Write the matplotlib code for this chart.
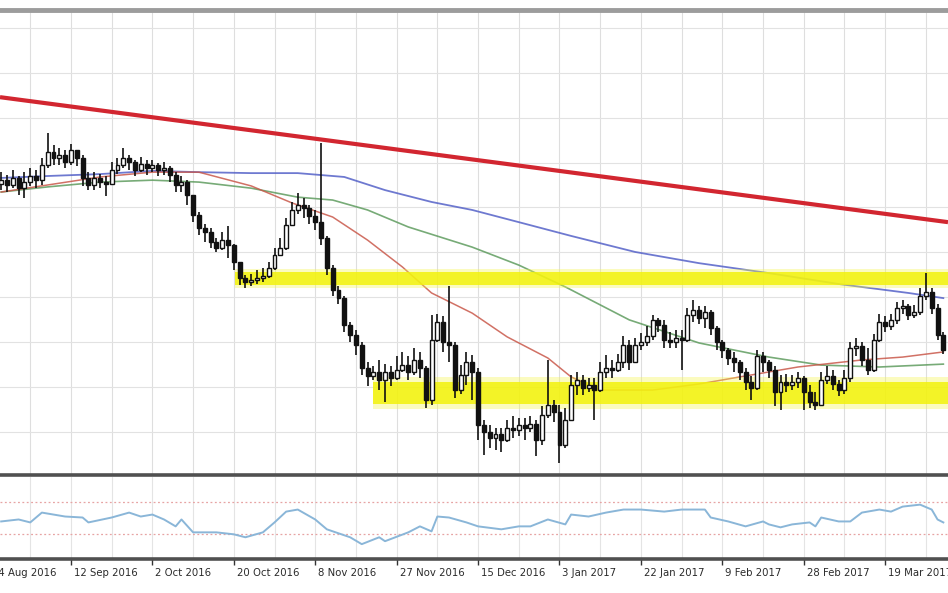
import numpy as np
import matplotlib
matplotlib.use("Agg")
import matplotlib.pyplot as plt

# EURUSD daily candles, late Aug 2016 - Mar 2017
opens = [
    1.1185, 1.1197, 1.1182, 1.1204, 1.1172, 1.1191, 1.1210, 1.1197, 1.1244, 1.1285,
    1.1266, 1.1275, 1.1254, 1.1291, 1.1266, 1.1204, 1.1182, 1.1204, 1.1191, 1.1185,
    1.1229, 1.1244, 1.1266, 1.1254, 1.1229, 1.1247, 1.1235, 1.1244, 1.1229, 1.1235,
    1.1213, 1.1182, 1.1191, 1.1151, 1.1088, 1.1048, 1.1035, 1.1004, 1.0985, 1.1010,
    1.0995, 1.0942, 1.0892, 1.0879, 1.0885, 1.0892, 1.0898, 1.0923, 1.0963, 1.0985,
    1.1057, 1.1104, 1.1119, 1.1110, 1.1085, 1.1066, 1.1016, 1.0923, 1.0854, 1.0829,
    1.0745, 1.0714, 1.0683, 1.0611, 1.0586, 1.0598, 1.0573, 1.0598, 1.0580, 1.0605,
    1.0620, 1.0598, 1.0636, 1.0611, 1.0511, 1.0698, 1.0754, 1.0692, 1.0683, 1.0542,
    1.0589, 1.0630, 1.0598, 1.0433, 1.0411, 1.0392, 1.0405, 1.0386, 1.0424, 1.0418,
    1.0433, 1.0424, 1.0436, 1.0386, 1.0464, 1.0495, 1.0474, 1.0371, 1.0449, 1.0558,
    1.0573, 1.0548, 1.0558, 1.0542, 1.0598, 1.0611, 1.0605, 1.0630, 1.0683, 1.0630,
    1.0683, 1.0692, 1.0711, 1.0761, 1.0745, 1.0698, 1.0692, 1.0704, 1.0698, 1.0776,
    1.0792, 1.0767, 1.0786, 1.0736, 1.0692, 1.0667, 1.0642, 1.0630, 1.0598, 1.0567,
    1.0548, 1.0648, 1.0630, 1.0605, 1.0536, 1.0567, 1.0558, 1.0567, 1.0580, 1.0536,
    1.0505, 1.0495, 1.0573, 1.0586, 1.0561, 1.0542, 1.0580, 1.0673, 1.0680, 1.0636,
    1.0605, 1.0698, 1.0754, 1.0742, 1.0761, 1.0798, 1.0804, 1.0776, 1.0786, 1.0836,
    1.0848, 1.0798, 1.0714,
]
highs = [
    1.1222, 1.1213, 1.1229, 1.1210, 1.1222, 1.1235, 1.1229, 1.1266, 1.1344, 1.1307,
    1.1297, 1.1291, 1.1310, 1.1291, 1.1275, 1.1222, 1.1222, 1.1216, 1.1210, 1.1254,
    1.1266, 1.1297, 1.1275, 1.1260, 1.1269, 1.1260, 1.1260, 1.1250, 1.1254, 1.1241,
    1.1222, 1.1210, 1.1197, 1.1151, 1.1098, 1.1060, 1.1048, 1.1016, 1.1035, 1.1054,
    1.0998, 1.0942, 1.0901, 1.0904, 1.0917, 1.0923, 1.0942, 1.0985, 1.1016, 1.1079,
    1.1129, 1.1157, 1.1141, 1.1119, 1.1104, 1.1313, 1.1023, 1.0932, 1.0867, 1.0836,
    1.0754, 1.0729, 1.0692, 1.0630, 1.0617, 1.0636, 1.0623, 1.0617, 1.0648, 1.0661,
    1.0648, 1.0673, 1.0661, 1.0617, 1.0776, 1.0779, 1.0773, 1.0867, 1.0692, 1.0620,
    1.0661, 1.0651, 1.0611, 1.0449, 1.0433, 1.0424, 1.0424, 1.0449, 1.0461, 1.0455,
    1.0455, 1.0461, 1.0449, 1.0492, 1.0636, 1.0511, 1.0495, 1.0486, 1.0589, 1.0598,
    1.0589, 1.0580, 1.0580, 1.0630, 1.0651, 1.0636, 1.0655, 1.0711, 1.0698, 1.0704,
    1.0720, 1.0742, 1.0776, 1.0767, 1.0761, 1.0723, 1.0729, 1.0729, 1.0798, 1.0823,
    1.0804, 1.0804, 1.0792, 1.0742, 1.0698, 1.0673, 1.0661, 1.0636, 1.0611, 1.0586,
    1.0667, 1.0661, 1.0636, 1.0617, 1.0589, 1.0592, 1.0589, 1.0598, 1.0586, 1.0558,
    1.0536, 1.0598, 1.0617, 1.0605, 1.0573, 1.0605, 1.0692, 1.0704, 1.0692, 1.0673,
    1.0717, 1.0779, 1.0773, 1.0779, 1.0817, 1.0823, 1.0811, 1.0807, 1.0860, 1.0907,
    1.0860, 1.0811, 1.0723,
]
lows = [
    1.1166, 1.1160, 1.1172, 1.1151, 1.1141, 1.1179, 1.1172, 1.1182, 1.1235, 1.1244,
    1.1244, 1.1235, 1.1244, 1.1241, 1.1179, 1.1166, 1.1166, 1.1172, 1.1148, 1.1182,
    1.1216, 1.1235, 1.1229, 1.1210, 1.1222, 1.1213, 1.1222, 1.1210, 1.1213, 1.1191,
    1.1160, 1.1160, 1.1119, 1.1066, 1.1026, 1.1004, 1.0985, 1.0973, 1.0979, 1.0954,
    1.0917, 1.0870, 1.0860, 1.0867, 1.0873, 1.0879, 1.0892, 1.0917, 1.0960, 1.0979,
    1.1054, 1.1091, 1.1079, 1.1060, 1.1041, 1.0995, 1.0901, 1.0836, 1.0811, 1.0723,
    1.0692, 1.0651, 1.0589, 1.0555, 1.0573, 1.0542, 1.0505, 1.0555, 1.0573, 1.0598,
    1.0573, 1.0589, 1.0580, 1.0486, 1.0495, 1.0692, 1.0661, 1.0630, 1.0517, 1.0530,
    1.0558, 1.0511, 1.0386, 1.0339, 1.0361, 1.0355, 1.0349, 1.0380, 1.0392, 1.0399,
    1.0386, 1.0411, 1.0336, 1.0371, 1.0455, 1.0442, 1.0314, 1.0361, 1.0449, 1.0527,
    1.0527, 1.0536, 1.0449, 1.0536, 1.0580, 1.0580, 1.0598, 1.0611, 1.0605, 1.0630,
    1.0667, 1.0680, 1.0698, 1.0723, 1.0673, 1.0673, 1.0673, 1.0605, 1.0692, 1.0754,
    1.0748, 1.0736, 1.0714, 1.0667, 1.0642, 1.0620, 1.0598, 1.0573, 1.0542, 1.0511,
    1.0542, 1.0598, 1.0580, 1.0492, 1.0480, 1.0536, 1.0542, 1.0548, 1.0480, 1.0486,
    1.0480, 1.0499, 1.0561, 1.0542, 1.0524, 1.0530, 1.0567, 1.0648, 1.0617, 1.0589,
    1.0598, 1.0692, 1.0723, 1.0729, 1.0748, 1.0779, 1.0761, 1.0767, 1.0776, 1.0823,
    1.0779, 1.0698, 1.0655,
]
closes = [
    1.1197, 1.1182, 1.1204, 1.1172, 1.1191, 1.1210, 1.1197, 1.1244, 1.1285, 1.1266,
    1.1275, 1.1254, 1.1291, 1.1266, 1.1204, 1.1182, 1.1204, 1.1191, 1.1185, 1.1229,
    1.1244, 1.1266, 1.1254, 1.1229, 1.1247, 1.1235, 1.1244, 1.1229, 1.1235, 1.1213,
    1.1182, 1.1191, 1.1151, 1.1088, 1.1048, 1.1035, 1.1004, 1.0985, 1.1010, 1.0995,
    1.0942, 1.0892, 1.0879, 1.0885, 1.0892, 1.0898, 1.0923, 1.0963, 1.0985, 1.1057,
    1.1104, 1.1119, 1.1110, 1.1085, 1.1066, 1.1016, 1.0923, 1.0854, 1.0829, 1.0745,
    1.0714, 1.0683, 1.0611, 1.0586, 1.0598, 1.0573, 1.0598, 1.0580, 1.0605, 1.0620,
    1.0598, 1.0636, 1.0611, 1.0511, 1.0698, 1.0754, 1.0692, 1.0683, 1.0542, 1.0589,
    1.0630, 1.0598, 1.0433, 1.0411, 1.0392, 1.0405, 1.0386, 1.0424, 1.0418, 1.0433,
    1.0424, 1.0436, 1.0386, 1.0464, 1.0495, 1.0474, 1.0371, 1.0449, 1.0558, 1.0573,
    1.0548, 1.0558, 1.0542, 1.0598, 1.0611, 1.0605, 1.0630, 1.0683, 1.0630, 1.0683,
    1.0692, 1.0711, 1.0761, 1.0745, 1.0698, 1.0692, 1.0704, 1.0698, 1.0776, 1.0792,
    1.0767, 1.0786, 1.0736, 1.0692, 1.0667, 1.0642, 1.0630, 1.0598, 1.0567, 1.0548,
    1.0648, 1.0630, 1.0605, 1.0536, 1.0567, 1.0558, 1.0567, 1.0580, 1.0536, 1.0505,
    1.0495, 1.0573, 1.0586, 1.0561, 1.0542, 1.0580, 1.0673, 1.0680, 1.0636, 1.0605,
    1.0698, 1.0754, 1.0742, 1.0761, 1.0798, 1.0804, 1.0776, 1.0786, 1.0836, 1.0848,
    1.0798, 1.0714, 1.0667,
]

# moving averages (bar index, value)
ma_slow_idx = [0, 8, 17, 26, 34, 43, 51, 59, 66, 74, 81, 89, 98, 109, 120, 132, 144, 156, 162]
ma_slow = [1.1204, 1.1210, 1.1216, 1.1226, 1.1222, 1.1219, 1.1219, 1.1207, 1.1166, 1.1129,
           1.1104, 1.1066, 1.1023, 1.0973, 1.0938, 1.0907, 1.0873, 1.0845, 1.0829]
ma_mid_idx = [0, 8, 17, 26, 34, 43, 51, 57, 63, 70, 81, 89, 97, 108, 120, 132, 141, 151, 162]
ma_mid = [1.1160, 1.1176, 1.1191, 1.1197, 1.1191, 1.1172, 1.1144, 1.1135, 1.1104, 1.1051,
          1.0988, 1.0932, 1.0864, 1.0761, 1.0689, 1.0645, 1.0620, 1.0614, 1.0623]
ma_fast_idx = [0, 8, 17, 26, 34, 43, 50, 57, 63, 69, 74, 81, 87, 94, 98, 103, 112, 120,
               127, 137, 148, 155, 162]
ma_fast = [1.1160, 1.1182, 1.1207, 1.1222, 1.1222, 1.1179, 1.1126, 1.1082, 1.1010, 1.0926,
           1.0845, 1.0782, 1.0708, 1.0642, 1.0583, 1.0542, 1.0542, 1.0561, 1.0583, 1.0614,
           1.0636, 1.0645, 1.0661]

# falling resistance line
trend_idx = [-0.2, 162.8]
trend_val = [1.1456, 1.1066]

# support / resistance zones
zone_lo = [1.0870, 1.0499]
zone_hi = [1.0910, 1.0567]
zone_start = [40.2, 63.9]

# oscillator in the lower pane
rsi_idx = [0, 3, 5, 7, 11, 14, 15, 19, 22, 24, 26, 28, 30, 31, 33, 37, 40, 42, 45, 47,
           49, 51, 54, 56, 60, 62, 65, 66, 70, 72, 74, 75, 77, 80, 82, 86, 89, 91, 94, 97,
           98, 101, 104, 107, 110, 114, 117, 121, 122, 125, 128, 131, 132, 134, 136, 139,
           140, 141, 144, 146, 148, 151, 153, 155, 158, 160, 161, 162]
rsi_val = [45.8, 48.2, 44.6, 56.6, 51.8, 50.6, 44.6, 50.6, 56.6, 51.8, 54.2, 48.2, 39.8,
           48.2, 32.5, 32.5, 30.1, 26.5, 32.5, 44.6, 57.8, 60.3, 48.2, 36.2, 26.5, 18.1,
           26.5, 21.7, 32.5, 39.8, 33.7, 51.8, 50.6, 44.6, 39.8, 36.2, 39.8, 39.8, 48.2,
           42.2, 54.2, 51.8, 56.6, 60.3, 60.3, 57.8, 60.3, 60.3, 50.6, 45.8, 39.8, 45.8,
           42.2, 38.6, 42.2, 44.6, 39.8, 50.6, 45.8, 45.8, 56.6, 60.3, 57.8, 63.9, 66.3,
           60.3, 48.2, 44.6]
rsi_levels = [30, 70]

date_idx = [-2, 12, 26, 40, 54, 68, 82, 96, 110, 124, 138, 152]
date_labels = ["24 Aug 2016", "12 Sep 2016", "2 Oct 2016", "20 Oct 2016", "8 Nov 2016",
               "27 Nov 2016", "15 Dec 2016", "3 Jan 2017", "22 Jan 2017", "9 Feb 2017",
               "28 Feb 2017", "19 Mar 2017"]


W, H = 948, 593
fig = plt.figure(figsize=(W / 100, H / 100), dpi=100)
ax = fig.add_axes([0, 1 - 475 / H, 1, 465 / H])
ax2 = fig.add_axes([0, 1 - 559 / H, 1, 82 / H], sharex=ax)

x = np.arange(len(closes))
o = np.array(opens)
c = np.array(closes)

ax.set_xlim(-0.2, 162.8)
ax.set_ylim(1.0277, 1.1728)

# grid
for gx in np.arange(5, 163, 7):
    ax.axvline(gx, color="#dedede", lw=0.8, zorder=0)
    ax2.axvline(gx, color="#e4e4e4", lw=0.8, zorder=0)
for gy in np.arange(1.0272, 1.18, 0.0140):
    ax.axhline(gy, color="#e2e2e2", lw=0.8, zorder=0)

# moving averages
ax.plot(ma_slow_idx, ma_slow, color="#5562c8", lw=1.3, alpha=0.85, zorder=1.5)
ax.plot(ma_mid_idx, ma_mid, color="#5f9c5f", lw=1.2, alpha=0.85, zorder=1.5)
ax.plot(ma_fast_idx, ma_fast, color="#c9584a", lw=1.1, alpha=0.85, zorder=1.5)

# zones
for lo, hi, start in zip(zone_lo, zone_hi, zone_start):
    pad = (hi - lo) * 0.25
    ax.fill_between([start, 163], lo - pad, hi + pad, color="#f6f64a", alpha=0.35, lw=0, zorder=2)
    ax.fill_between([start, 163], lo, hi, color="#f2f20c", alpha=0.85, lw=0, zorder=2)

# trend line
ax.plot(trend_idx, trend_val, color="#d22630", lw=3.0, solid_capstyle="butt", zorder=2.5)

# candles
ax.vlines(x, lows, highs, color="#111111", lw=1.2, zorder=3)
up = c >= o
ax.bar(x[up], c[up] - o[up], bottom=o[up], width=0.68, facecolor="white",
       edgecolor="#111111", lw=1.0, zorder=4)
ax.bar(x[~up], c[~up] - o[~up], bottom=o[~up], width=0.68, facecolor="#111111",
       edgecolor="#111111", lw=1.0, zorder=4)

# lower pane
ax2.set_ylim(0, 100)
for lv in rsi_levels:
    ax2.axhline(lv, color="#e7a3a3", lw=0.9, ls=(0, (1.5, 2)), zorder=1)
ax2.plot(rsi_idx, rsi_val, color="#8ab6d8", lw=1.4, zorder=2)

for a in (ax, ax2):
    a.spines["left"].set_visible(False)
    a.spines["right"].set_visible(False)
    a.set_yticks([])
ax.spines["top"].set_color("#9c9c9c")
ax.spines["top"].set_linewidth(3.5)
ax.spines["bottom"].set_color("#505050")
ax.spines["bottom"].set_linewidth(2.6)
ax2.spines["top"].set_visible(False)
ax2.spines["bottom"].set_color("#505050")
ax2.spines["bottom"].set_linewidth(2.6)
ax.tick_params(bottom=False, labelbottom=False)

ax2.set_xticks(date_idx[1:])
ax2.tick_params(axis="x", length=4, width=1, color="#333333", labelbottom=False)
# the first and last labels run off the edges, as in the original screenshot
for di, lab in zip(date_idx, date_labels):
    ax2.text(di + 0.5, -0.17, lab, transform=ax2.get_xaxis_transform(), ha="left",
             va="center", fontsize=7.3, color="#2a2a2a", clip_on=False)

fig.savefig("out.png", dpi=100)
